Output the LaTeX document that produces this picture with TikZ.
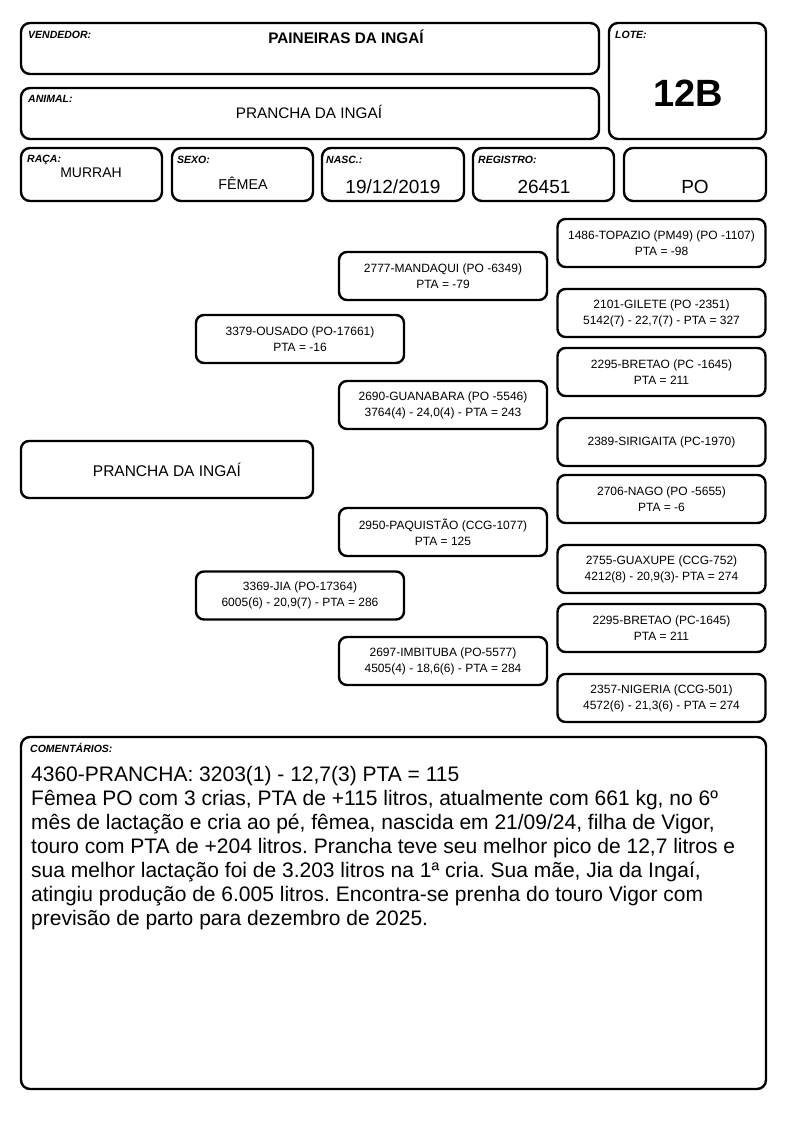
\documentclass[tikz,border=0pt]{standalone}
\usepackage{fontspec}
\setmainfont{Liberation Sans}
\frenchspacing
\begin{document}
\begin{tikzpicture}[x=1pt, y=-1pt,
    card/.style={draw, rectangle, rounded corners=9pt, line width=2.4pt, inner sep=0pt},
    ped/.style={draw, rectangle, rounded corners=8pt, line width=2.4pt, minimum width=208pt, minimum height=48pt, align=center, inner sep=0pt, font=\fontsize{12}{16}\selectfont},
    tag/.style={anchor=base west, inner sep=0pt, font=\fontsize{10.5}{12}\selectfont\bfseries\itshape},
    val/.style={anchor=base, inner sep=0pt}]
    \fill[white] (0,0) rectangle (794,1123);
    \useasboundingbox (0,0) rectangle (794,1123);

    \node[card, minimum width=578pt, minimum height=51pt] (vendedor) at (310,48.5) {};
    \node[card, minimum width=578pt, minimum height=51pt] (animal) at (310,113.5) {};
    \node[card, minimum width=157pt, minimum height=116pt] (lote) at (687.5,81) {};
    \node[card, minimum width=141pt, minimum height=53pt] (raca) at (91.5,174.5) {};
    \node[card, minimum width=141pt, minimum height=53pt] (sexo) at (242.5,174.5) {};
    \node[card, minimum width=142pt, minimum height=53pt] (nasc) at (393,174.5) {};
    \node[card, minimum width=141pt, minimum height=53pt] (registro) at (543.5,174.5) {};
    \node[card, minimum width=142pt, minimum height=53pt] (tipo) at (695,174.5) {};

    \node[tag] (tvendedor) at (28,39) {VENDEDOR:};
    \node[tag] (tanimal) at (28,103) {ANIMAL:};
    \node[tag] (tlote) at (615,39) {LOTE:};
    \node[tag] (traca) at (27,163) {RAÇA:};
    \node[tag] (tsexo) at (177,164) {SEXO:};
    \node[tag] (tnasc) at (326,164) {NASC.:};
    \node[tag] (tregistro) at (478,164) {REGISTRO:};

    \node[val, font=\fontsize{15.3}{17}\selectfont\bfseries] (vvendedor) at (346,44) {PAINEIRAS DA INGAÍ};
    \node[val, font=\fontsize{15.3}{17}\selectfont] (vanimal) at (309,119) {PRANCHA DA INGAÍ};
    \node[val, font=\fontsize{38}{40}\selectfont\bfseries] (vlote) at (688,107) {12B};
    \node[val, font=\fontsize{14}{16}\selectfont] (vraca) at (91,178) {MURRAH};
    \node[val, font=\fontsize{14.3}{16}\selectfont] (vsexo) at (243,190) {FÊMEA};
    \node[val, font=\fontsize{19}{21}\selectfont] (vnasc) at (393,194) {19/12/2019};
    \node[val, font=\fontsize{19}{21}\selectfont] (vregistro) at (544,194) {26451};
    \node[val, font=\fontsize{19}{21}\selectfont] (vtipo) at (695,194) {PO};

    \node[ped, minimum width=292pt, minimum height=57pt, font=\fontsize{15.5}{18}\selectfont] (prancha) at (167,469.5) {PRANCHA DA INGAÍ};

    \node[ped] (ousado) at (300,339) {3379-OUSADO (PO-17661)\\PTA = -16};
    \node[ped] (jia) at (300,595.5) {3369-JIA (PO-17364)\\6005(6) - 20,9(7) - PTA = 286};

    \node[ped] (mandaqui) at (443,276) {2777-MANDAQUI (PO -6349)\\PTA = -79};
    \node[ped] (guanabara) at (443,405) {2690-GUANABARA (PO -5546)\\3764(4) - 24,0(4) - PTA = 243};
    \node[ped] (paquistao) at (443,532) {2950-PAQUISTÃO (CCG-1077)\\PTA = 125};
    \node[ped] (imbituba) at (443,661) {2697-IMBITUBA (PO-5577)\\4505(4) - 18,6(6) - PTA = 284};

    \node[ped] (topazio) at (661.5,243) {1486-TOPAZIO (PM49) (PO -1107)\\PTA = -98};
    \node[ped] (gilete) at (661.5,313) {2101-GILETE (PO -2351)\\5142(7) - 22,7(7) - PTA = 327};
    \node[ped] (bretao) at (661.5,372) {2295-BRETAO (PC -1645)\\PTA = 211};
    \node[ped] (sirigaita) at (661.5,442) {2389-SIRIGAITA (PC-1970)};
    \node[ped] (nago) at (661.5,499) {2706-NAGO (PO -5655)\\PTA = -6};
    \node[ped] (guaxupe) at (661.5,569) {2755-GUAXUPE (CCG-752)\\4212(8) - 20,9(3)- PTA = 274};
    \node[ped] (bretaoii) at (661.5,628) {2295-BRETAO (PC-1645)\\PTA = 211};
    \node[ped] (nigeria) at (661.5,698) {2357-NIGERIA (CCG-501)\\4572(6) - 21,3(6) - PTA = 274};

    \node[card, minimum width=745pt, minimum height=352pt] (comentarios) at (393.5,913) {};
    \node[tag] (tcomentarios) at (30,752) {COMENTÁRIOS:};
    \node[anchor=north west, inner sep=0pt, align=left, font=\fontsize{21}{24}\selectfont] (texto) at (31,766.5) {4360-PRANCHA: 3203(1) - 12,7(3) PTA = 115\\
        Fêmea PO com 3 crias, PTA de +115 litros, atualmente com 661 kg, no 6º\\
        mês de lactação e cria ao pé, fêmea, nascida em 21/09/24, filha de Vigor,\\
        touro com PTA de +204 litros. Prancha teve seu melhor pico de 12,7 litros e\\
        sua melhor lactação foi de 3.203 litros na 1ª cria. Sua mãe, Jia da Ingaí,\\
        atingiu produção de 6.005 litros. Encontra-se prenha do touro Vigor com\\
        previsão de parto para dezembro de 2025.};
\end{tikzpicture}
\end{document}
